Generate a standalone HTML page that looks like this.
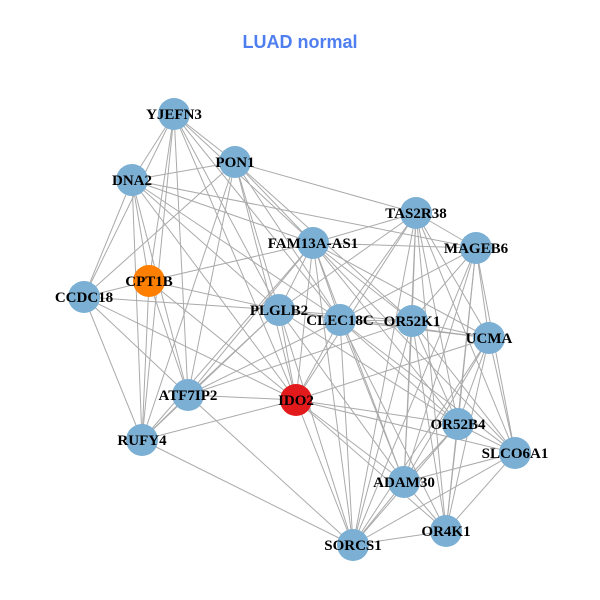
<!DOCTYPE html>
<html><head><style>
html,body{margin:0;padding:0;background:#fff;width:600px;height:600px;overflow:hidden}
text{font-family:"Liberation Serif",serif;font-weight:bold;font-size:15px;fill:#000}
</style></head><body>
<svg id="s" width="600" height="600" xmlns="http://www.w3.org/2000/svg">
<text x="300" y="48" text-anchor="middle" style="font-family:'Liberation Sans',sans-serif;font-size:18px;fill:#4f7ef0">LUAD normal</text>
<g id="e" stroke="#aaaaaa" stroke-width="1"></g>
<g id="n"></g>
</svg>
<script>
var N={YJEFN3:[174,114],PON1:[235,162],DNA2:[132,180],FAM:[313,243],CPT1B:[149,281],CCDC18:[84,297],PLGLB2:[279,310],TAS2R38:[416,213],MAGEB6:[476,248],CLEC18C:[340,320],OR52K1:[412,321],UCMA:[489,338],IDO2:[296,400],ATF7IP2:[188,395],RUFY4:[142,440],OR52B4:[458,424],SLCO6A1:[515,453],ADAM30:[404,482],OR4K1:[446,531],SORCS1:[353,545]};
var E="YJEFN3-PON1 YJEFN3-DNA2 YJEFN3-CPT1B YJEFN3-CCDC18 YJEFN3-FAM YJEFN3-PLGLB2 YJEFN3-CLEC18C YJEFN3-ATF7IP2 YJEFN3-IDO2 YJEFN3-RUFY4 PON1-DNA2 PON1-TAS2R38 PON1-FAM PON1-PLGLB2 PON1-CLEC18C PON1-IDO2 PON1-ATF7IP2 PON1-RUFY4 PON1-CCDC18 PON1-OR52K1 DNA2-CPT1B DNA2-CCDC18 DNA2-FAM DNA2-PLGLB2 DNA2-CLEC18C DNA2-ATF7IP2 DNA2-RUFY4 DNA2-IDO2 DNA2-MAGEB6 CPT1B-FAM CPT1B-CCDC18 CPT1B-PLGLB2 CPT1B-ATF7IP2 CPT1B-RUFY4 CPT1B-IDO2 CCDC18-PLGLB2 CCDC18-ATF7IP2 CCDC18-RUFY4 CCDC18-IDO2 FAM-TAS2R38 FAM-MAGEB6 FAM-PLGLB2 FAM-CLEC18C FAM-OR52K1 FAM-UCMA FAM-IDO2 FAM-ATF7IP2 FAM-RUFY4 FAM-OR52B4 FAM-ADAM30 FAM-SLCO6A1 PLGLB2-CLEC18C PLGLB2-OR52K1 PLGLB2-IDO2 PLGLB2-ATF7IP2 PLGLB2-RUFY4 PLGLB2-ADAM30 PLGLB2-OR52B4 PLGLB2-UCMA PLGLB2-TAS2R38 ATF7IP2-IDO2 ATF7IP2-RUFY4 ATF7IP2-SORCS1 ATF7IP2-CLEC18C ATF7IP2-OR52K1 RUFY4-IDO2 RUFY4-SORCS1 IDO2-CLEC18C IDO2-UCMA IDO2-OR52B4 IDO2-SLCO6A1 IDO2-ADAM30 IDO2-SORCS1 IDO2-OR4K1 IDO2-TAS2R38 TAS2R38-MAGEB6 TAS2R38-CLEC18C TAS2R38-OR52K1 TAS2R38-UCMA TAS2R38-OR52B4 TAS2R38-SLCO6A1 TAS2R38-ADAM30 TAS2R38-OR4K1 TAS2R38-SORCS1 MAGEB6-CLEC18C MAGEB6-OR52K1 MAGEB6-UCMA MAGEB6-OR52B4 MAGEB6-SLCO6A1 MAGEB6-ADAM30 MAGEB6-OR4K1 MAGEB6-SORCS1 CLEC18C-OR52K1 CLEC18C-UCMA CLEC18C-OR52B4 CLEC18C-SLCO6A1 CLEC18C-ADAM30 CLEC18C-OR4K1 CLEC18C-SORCS1 OR52K1-UCMA OR52K1-OR52B4 OR52K1-SLCO6A1 OR52K1-ADAM30 OR52K1-OR4K1 OR52K1-SORCS1 UCMA-OR52B4 UCMA-SLCO6A1 UCMA-ADAM30 UCMA-OR4K1 UCMA-SORCS1 OR52B4-SLCO6A1 OR52B4-ADAM30 OR52B4-OR4K1 OR52B4-SORCS1 SLCO6A1-ADAM30 SLCO6A1-OR4K1 SLCO6A1-SORCS1 ADAM30-OR4K1 ADAM30-SORCS1 OR4K1-SORCS1 PLGLB2-SORCS1 FAM-SORCS1".split(" ");
var ns="http://www.w3.org/2000/svg",eg=document.getElementById("e"),ng=document.getElementById("n");
E.forEach(function(p){var a=p.split("-"),A=N[a[0]],B=N[a[1]];var l=document.createElementNS(ns,"line");l.setAttribute("x1",A[0]);l.setAttribute("y1",A[1]);l.setAttribute("x2",B[0]);l.setAttribute("y2",B[1]);eg.appendChild(l);});
for(var k in N){var c=document.createElementNS(ns,"circle");c.setAttribute("cx",N[k][0]);c.setAttribute("cy",N[k][1]);c.setAttribute("r",16);c.setAttribute("fill",k=="IDO2"?"#e31a1c":k=="CPT1B"?"#ff7f00":"#7bafd4");ng.appendChild(c);}
for(var k in N){var t=document.createElementNS(ns,"text");t.setAttribute("x",N[k][0]);t.setAttribute("y",N[k][1]+5);t.setAttribute("text-anchor","middle");t.textContent=k=="FAM"?"FAM13A-AS1":k;ng.appendChild(t);}
</script>
</body></html>
